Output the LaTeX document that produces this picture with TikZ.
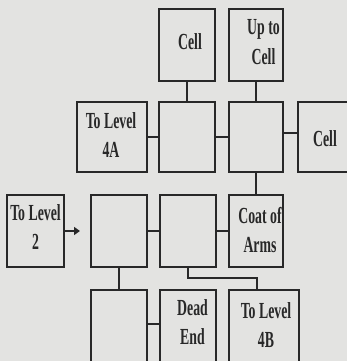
\documentclass[tikz,border=0pt]{standalone}
\usepackage{fontspec}
\setmainfont{Liberation Serif}
\usepackage{graphicx}
\usetikzlibrary{arrows.meta}
\definecolor{paper}{RGB}{227,227,225}
\definecolor{ink}{RGB}{40,40,40}
\newcommand\roomtext[1]{\scalebox{0.6}[1]{\fontsize{23}{29.5}\selectfont\bfseries\begin{tabular}[t]{@{}c@{}}#1\end{tabular}}}
\begin{document}
\begin{tikzpicture}[x=1pt,y=-1pt,
  room/.style={draw=ink,line width=1.8pt,inner sep=0pt,outer sep=0pt},
  lbl/.style={anchor=base,inner sep=0pt,text=ink},
  link/.style={draw=ink,line width=1.8pt}]
\fill[paper] (0,0) rectangle (347,361);
\useasboundingbox (0,0) rectangle (347,361);
% boxes
\node[room,minimum width=56pt,minimum height=72pt] (top1) at (187,45) {};
\node[room,minimum width=54pt,minimum height=72pt] (up) at (256,45) {};
\node[room,minimum width=70pt,minimum height=70pt] (b4a) at (112,137) {};
\node[room,minimum width=56pt,minimum height=70pt] (r2b2) at (187,137) {};
\node[room,minimum width=54pt,minimum height=70pt] (r2b3) at (256,137) {};
\node[room,minimum width=62pt,minimum height=70pt] (cellr) at (329,137) {};
\node[room,minimum width=57pt,minimum height=72pt] (lvl2) at (35.5,231) {};
\node[room,minimum width=56pt,minimum height=72pt] (r3b2) at (119,231) {};
\node[room,minimum width=56pt,minimum height=72pt] (r3b3) at (188,231) {};
\node[room,minimum width=54pt,minimum height=72pt] (coat) at (256,231) {};
\node[room,minimum width=56pt,minimum height=80pt] (r4b1) at (119,330) {};
\node[room,minimum width=56pt,minimum height=80pt] (dead) at (188,330) {};
\node[room,minimum width=70pt,minimum height=80pt] (l4b) at (264,330) {};
% labels
\node[lbl] (t-top1) at (190,50) {\roomtext{Cell}};
\node[lbl] (t-up) at (263.5,35) {\roomtext{Up to\\Cell}};
\node[lbl] (t-4a) at (111,128) {\roomtext{To Level\\4A}};
\node[lbl] (t-cellr) at (325,146) {\roomtext{Cell}};
\node[lbl] (t-lvl2) at (35.5,220) {\roomtext{To Level\\2}};
\node[lbl] (t-coat) at (260,223) {\roomtext{Coat of\\Arms}};
\node[lbl] (t-dead) at (192.5,315) {\roomtext{Dead\\End}};
\node[lbl] (t-4b) at (266,318) {\roomtext{To Level\\4B}};
% connectors
\draw[link] (top1.south) -- (r2b2.north);
\draw[link] (up.south) -- (r2b3.north);
\draw[link] (b4a.east) -- (r2b2.west);
\draw[link] (r2b2.east) -- (r2b3.west);
\draw[link] ([yshift=4pt]r2b3.east) -- ([yshift=4pt]cellr.west);
\draw[link] (r2b3.south) -- (coat.north);
\draw[link] (r3b2.east) -- (r3b3.west);
\draw[link] (r3b3.east) -- (coat.west);
\draw[link] (r3b2.south) -- (r4b1.north);
\draw[link] ([yshift=6pt]r4b1.east) -- ([yshift=6pt]dead.west);
\coordinate (j) at (257,278);
\draw[link] (r3b3.south) |- (j) -- (j |- l4b.north);
\coordinate (arr) at (80,231);
\draw[draw=ink,line width=2.4pt,-{Triangle[length=6pt,width=8pt]}] (lvl2.east) -- (arr);
\end{tikzpicture}
\end{document}
